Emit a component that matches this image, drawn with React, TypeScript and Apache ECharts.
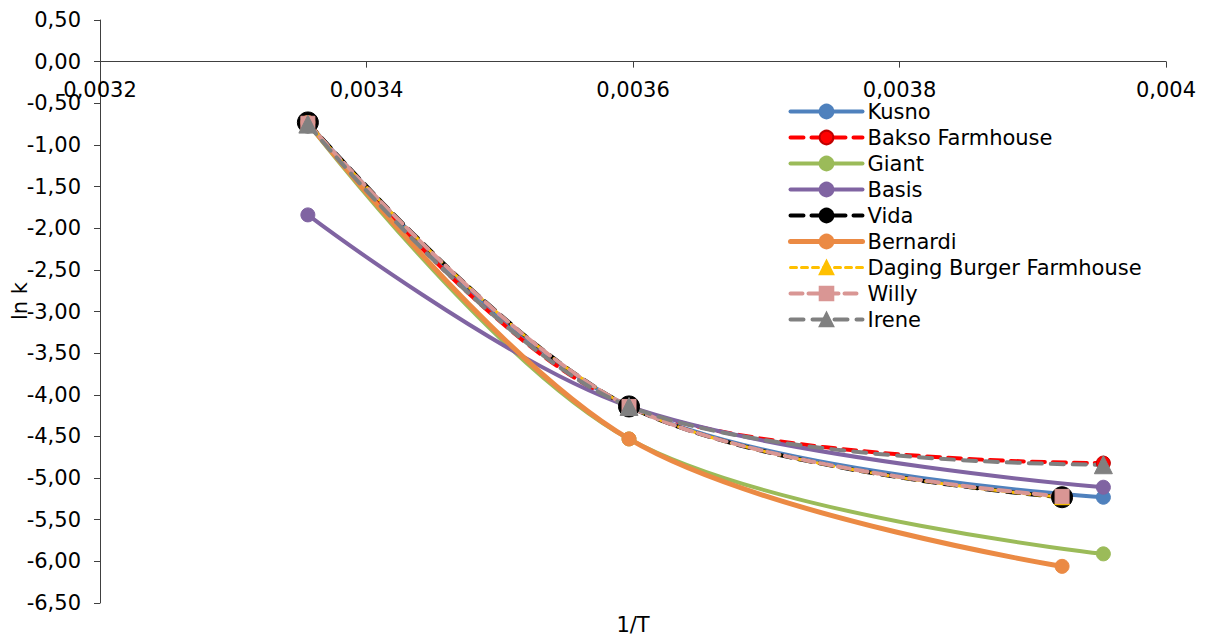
import React, { useEffect, useRef } from "react";
import * as echarts from "echarts";

// 1/T positions (K^-1)
const xPoints = [0.003356, 0.003597, 0.003922, 0.003953];

const seriesNames = [
  "Kusno",
  "Bakso Farmhouse",
  "Giant",
  "Basis",
  "Vida",
  "Bernardi",
  "Daging Burger Farmhouse",
  "Willy",
  "Irene",
];

// ln k values ([x, y] pairs)
const kusno = [[xPoints[0], -0.73], [xPoints[1], -4.14], [xPoints[3], -5.23]];
const baksoFarmhouse = [[xPoints[0], -0.73], [xPoints[1], -4.14], [xPoints[3], -4.82]];
const giant = [[xPoints[0], -0.74], [xPoints[1], -4.53], [xPoints[3], -5.91]];
const basis = [[xPoints[0], -1.84], [xPoints[1], -4.14], [xPoints[3], -5.11]];
const vida = [[xPoints[0], -0.73], [xPoints[1], -4.14], [xPoints[2], -5.23]];
const bernardi = [[xPoints[0], -0.73], [xPoints[1], -4.53], [xPoints[2], -6.06]];
const dagingBurger = [[xPoints[0], -0.74], [xPoints[1], -4.14], [xPoints[2], -5.23]];
const willy = [[xPoints[0], -0.74], [xPoints[1], -4.14], [xPoints[2], -5.22]];
const irene = [[xPoints[0], -0.75], [xPoints[1], -4.14], [xPoints[3], -4.84]];

const seriesData = [kusno, baksoFarmhouse, giant, basis, vida, bernardi, dagingBurger, willy, irene];

const styles = [
  { color: "#4F81BD", width: 4, type: "solid", symbol: "circle", size: 14, border: "#4F81BD" },
  { color: "#FF0000", width: 4, type: [13, 8], symbol: "circle", size: 14, border: "#C00000" },
  { color: "#9BBB59", width: 4, type: "solid", symbol: "circle", size: 14, border: "#9BBB59" },
  { color: "#8064A2", width: 4, type: "solid", symbol: "circle", size: 14, border: "#8064A2" },
  { color: "#000000", width: 4, type: [13, 8], symbol: "circle", size: 21, border: "#000000" },
  { color: "#EB8A44", width: 5, type: "solid", symbol: "circle", size: 14, border: "#EB8A44" },
  { color: "#FFC000", width: 3, type: [6, 5], symbol: "triangle", size: 15, border: "#FFC000" },
  { color: "#D99694", width: 4, type: [12, 6], symbol: "rect", size: 14, border: "#D99694" },
  { color: "#808080", width: 4, type: [13, 9], symbol: "triangle", size: 18, border: "#808080" },
];

const FONT = "DejaVu Sans";
const ZERO_OFFSET = -41.64; // pixel distance from grid top to y = 0

export default function App() {
  const ref = useRef<HTMLDivElement>(null);

  useEffect(() => {
    if (!ref.current) return;
    const chart = echarts.init(ref.current, null, { renderer: "svg" });
    const series = seriesNames.map((name, i) => {
      const s = styles[i];
      return {
        name,
        type: "line",
        data: seriesData[i],
        smooth: 0.35,
        symbol: s.symbol,
        symbolSize: s.size,
        showAllSymbol: true,
        lineStyle: { color: s.color, width: s.width, type: s.type, cap: "round" },
        itemStyle: { color: s.color, borderColor: s.border, borderWidth: 1 },
        emphasis: { disabled: true },
      };
    });
    chart.setOption({
      animation: false,
      backgroundColor: "#ffffff",
      grid: { left: 100, top: 20, right: 41, bottom: 35, containLabel: false },
      xAxis: {
        type: "value",
        position: "top",
        offset: ZERO_OFFSET,
        min: 0.0032,
        max: 0.004,
        interval: 0.0002,
        axisLine: { onZero: false, lineStyle: { color: "#404040", width: 1 } },
        axisTick: { show: true, inside: true, length: 6, lineStyle: { color: "#404040" } },
        splitLine: { show: false },
        axisLabel: {
          inside: true,
          margin: 18,
          color: "#000",
          fontFamily: FONT,
          fontSize: 21,
          formatter: (v: number) => String(parseFloat(v.toFixed(5))).replace(".", ","),
        },
      },
      yAxis: {
        type: "value",
        min: -6.5,
        max: 0.5,
        interval: 0.5,
        axisLine: { show: true, onZero: false, lineStyle: { color: "#404040", width: 1 } },
        axisTick: { show: true, length: 6, lineStyle: { color: "#404040" } },
        splitLine: { show: false },
        axisLabel: {
          margin: 19,
          color: "#000",
          fontFamily: FONT,
          fontSize: 21,
          formatter: (v: number) => v.toFixed(2).replace(".", ","),
        },
      },
      legend: {
        show: true,
        orient: "vertical",
        left: 788,
        top: 101,
        itemWidth: 72,
        itemHeight: 17,
        itemGap: 5,
        padding: 0,
        lineStyle: { width: "inherit" },
        textStyle: { fontFamily: FONT, fontSize: 21, lineHeight: 21, color: "#000" },
        data: seriesNames,
      },
      graphic: [
        {
          type: "text",
          x: 633,
          y: 625,
          style: {
            text: "1/T",
            fontFamily: FONT,
            fontSize: 21,
            fill: "#000",
            align: "center",
            verticalAlign: "middle",
          },
        },
        {
          type: "text",
          x: 20,
          y: 301,
          rotation: Math.PI / 2,
          style: {
            text: "ln k",
            fontFamily: FONT,
            fontSize: 21,
            fill: "#000",
            align: "center",
            verticalAlign: "middle",
          },
        },
      ],
      series,
    });
    return () => chart.dispose();
  }, []);

  return (
    <div
      ref={ref}
      style={{ position: "fixed", left: 0, top: 0, width: 1207, height: 638, background: "#fff" }}
    />
  );
}
